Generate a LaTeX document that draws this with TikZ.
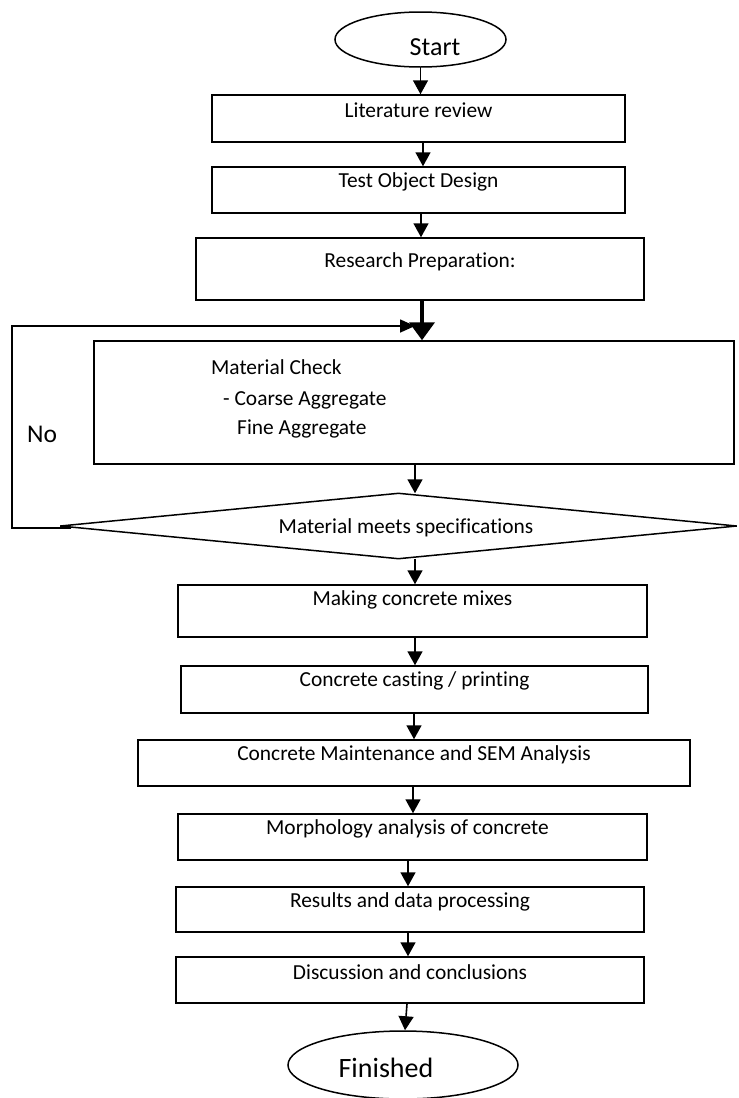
\documentclass[tikz,border=0pt]{standalone}
\usepackage{fontspec}
\setmainfont{Carlito}[Ligatures=NoCommon]
\usetikzlibrary{shapes.geometric,arrows.meta}
\begin{document}
\begin{tikzpicture}[x=1pt,y=-1pt,
  box/.style={draw, line width=1.5pt, rectangle, inner sep=0pt},
  lbl/.style={font=\fontsize{21.4pt}{25pt}\selectfont, inner sep=0pt},
  arr/.style={line width=1.6pt, -{Triangle[width=15pt,length=14pt]}},
  thickarr/.style={line width=4pt, -{Triangle[width=25pt,length=18pt]}},
  looparr/.style={line width=1.6pt, -{Triangle[width=13pt,length=15pt]}},
  oval/.style={draw, ellipse, line width=1.5pt, inner sep=0pt}
]
\useasboundingbox (0,0) rectangle (739,1098);

% terminals
\node[oval, minimum width=171pt, minimum height=55pt] (start) at (420.5,39.5) {};
\node[font=\fontsize{26pt}{30pt}\selectfont, inner sep=0pt] (starttxt) at (435,47) {Start};

% process boxes
\node[box, minimum width=413pt, minimum height=47pt,
  label={[lbl,anchor=center,yshift=-16pt]north:Literature review}] (lit) at (418.5,118.5) {};
\node[box, minimum width=413pt, minimum height=46pt,
  label={[lbl,anchor=center,yshift=-16pt]north:Test Object Design}] (test) at (418.5,190) {};
\node[box, minimum width=448pt, minimum height=62pt,
  label={[lbl,anchor=center,yshift=-25pt]north:Research Preparation:}] (rp) at (420,269) {};

\node[box, minimum width=640pt, minimum height=123pt] (mc) at (414,402.5) {};
\node[lbl, anchor=west] (mc1) at (211,367) {Material Check};
\node[lbl, anchor=west] (mc2) at (223,400) {- Coarse Aggregate};
\node[lbl, anchor=west] (mc3) at (237,429) {Fine Aggregate};

\node[draw, diamond, line width=1.5pt, minimum width=677pt, minimum height=66pt,
  inner sep=0pt, aspect=10] (dia) at (398.5,526) {};
\node[lbl] (diatxt) at (406,528) {Material meets specifications};

\node[font=\fontsize{25.5pt}{30pt}\selectfont, inner sep=0pt, anchor=west] (no) at (27,434) {No};

\node[box, minimum width=469pt, minimum height=52pt,
  label={[lbl,anchor=center,yshift=-16pt]north:Making concrete mixes}] (mix) at (412.5,611) {};
\node[box, minimum width=467pt, minimum height=47pt,
  label={[lbl,anchor=center,yshift=-16pt]north:Concrete casting / printing}] (cast) at (414.5,689.5) {};
\node[box, minimum width=552pt, minimum height=46pt,
  label={[lbl,anchor=center,yshift=-16pt]north:Concrete Maintenance and SEM Analysis}] (maint) at (414,763) {};
\node[box, minimum width=469pt, minimum height=46pt,
  label={[lbl,anchor=center,yshift=-16pt,xshift=-5pt]north:Morphology analysis of concrete}] (morph) at (412.5,837) {};
\node[box, minimum width=468pt, minimum height=45pt,
  label={[lbl,anchor=center,yshift=-16pt]north:Results and data processing}] (res) at (410,909.5) {};
\node[box, minimum width=468pt, minimum height=46pt,
  label={[lbl,anchor=center,yshift=-16pt]north:Discussion and conclusions}] (disc) at (410,980) {};

\node[oval, minimum width=230pt, minimum height=68pt] (fin) at (403,1065) {};
\node[font=\fontsize{28pt}{32pt}\selectfont, inner sep=0pt] (fintxt) at (386,1068) {Finished};

% connectors
\draw[arr] (start.south) -- (start.south |- lit.north);
\draw[arr] ([xshift=4.5pt]lit.south) -- ([xshift=4.5pt]test.north);
\draw[arr] ([xshift=2.5pt]test.south) -- ([xshift=1pt]rp.north);
\draw[thickarr] ([xshift=2pt]rp.south) -- ([xshift=8pt]mc.north);
\coordinate (join) at (415,326);
\draw[looparr] ([xshift=12pt,yshift=-2pt]dia.west) -- ++(-59,0) |- (join);
\draw[arr] ([xshift=1pt]mc.south) -- ([xshift=16.5pt,yshift=-1pt]dia.north);
\draw[arr] ([xshift=16.5pt,yshift=1pt]dia.south) -- ([xshift=2.5pt]mix.north);
\draw[arr] ([xshift=2.5pt]mix.south) -- ([xshift=0.5pt]cast.north);
\draw[arr] ([xshift=-0.5pt]cast.south) -- (maint.north);
\draw[arr] ([xshift=-1pt]maint.south) -- ([xshift=0.5pt]morph.north);
\draw[arr] ([xshift=-4.5pt]morph.south) -- ([xshift=-2pt]res.north);
\draw[arr] ([xshift=-2pt]res.south) -- ([xshift=-2pt]disc.north);
\draw[arr] ([xshift=-3pt]disc.south) -- ([xshift=2pt]fin.north);
\end{tikzpicture}
\end{document}
